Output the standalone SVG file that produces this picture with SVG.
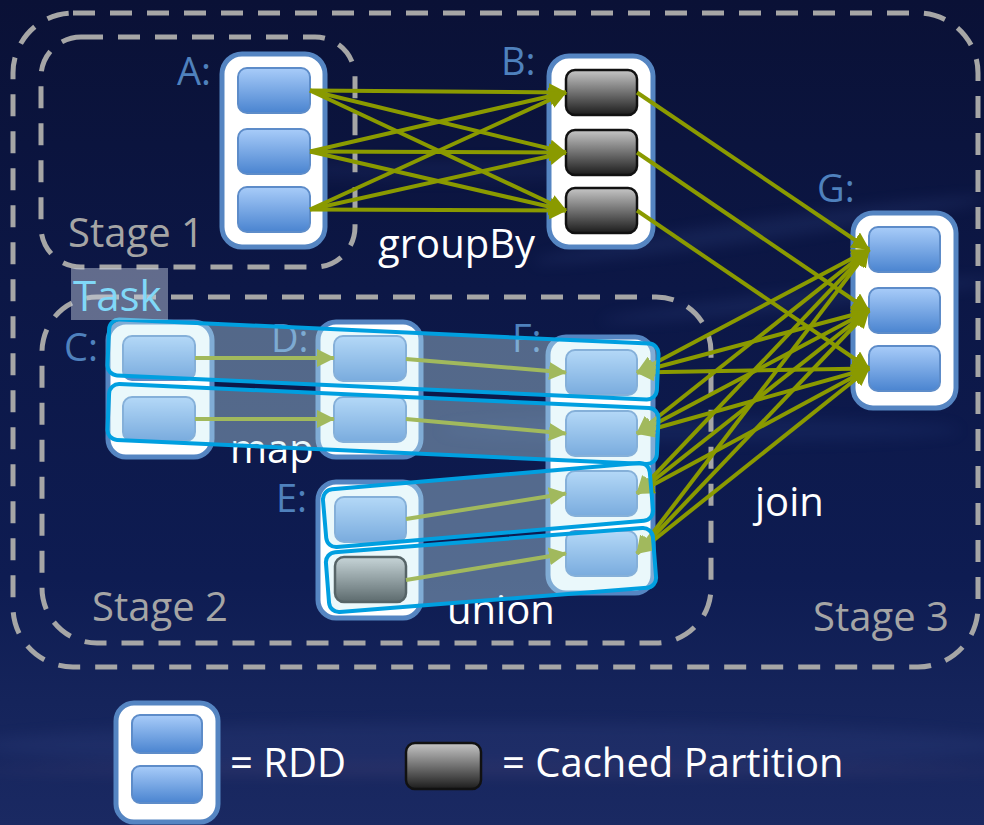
<svg xmlns="http://www.w3.org/2000/svg" width="984" height="825" viewBox="0 0 984 825">
  <defs>
    <linearGradient id="bg" x1="0" y1="0" x2="0" y2="1">
      <stop offset="0" stop-color="#0a1136"/>
      <stop offset="0.35" stop-color="#0c1746"/>
      <stop offset="0.7" stop-color="#0e1c52"/>
      <stop offset="0.85" stop-color="#15245b"/>
      <stop offset="1" stop-color="#1a2962"/>
    </linearGradient>
    <linearGradient id="part" x1="0" y1="0" x2="0" y2="1">
      <stop offset="0" stop-color="#a8ccf9"/>
      <stop offset="1" stop-color="#4a84d0"/>
    </linearGradient>
    <linearGradient id="cached" x1="0" y1="0" x2="0" y2="1">
      <stop offset="0" stop-color="#c6c6c6"/>
      <stop offset="1" stop-color="#1c1c1c"/>
    </linearGradient>
    <filter id="soft" x="-20%" y="-200%" width="140%" height="500%">
      <feGaussianBlur stdDeviation="7"/>
    </filter>
    <marker id="ah" viewBox="0 0 18 18" refX="17" refY="9" markerWidth="18" markerHeight="18" markerUnits="userSpaceOnUse" orient="auto-start-reverse">
      <path d="M0,0 L18,9 L0,18 z" fill="#8a9a00"/>
    </marker>
    <style>
      .stage { fill: none; stroke: #a6a6a6; stroke-width: 5; stroke-dasharray: 22 15; }
      .stlabel { font-family: "Open Sans", "Noto Sans", "DejaVu Sans", sans-serif; font-size: 40px; fill: #a5a5a5; }
      .name { font-family: "Open Sans", "Noto Sans", "DejaVu Sans", sans-serif; font-size: 38px; fill: #4f81bd; }
      .op { font-family: "Open Sans", "Noto Sans", "DejaVu Sans", sans-serif; font-size: 40px; fill: #ffffff; }
      .rdd { fill: #ffffff; stroke: #5585c2; stroke-width: 5; }
      .p { fill: url(#part); stroke: #5d8cc9; stroke-width: 2; }
      .c { fill: url(#cached); stroke: #111111; stroke-width: 2.5; }
      .edge { stroke: #8a9a00; stroke-width: 4; fill: none; marker-end: url(#ah); }
      .both { marker-start: url(#ah); }
      .task { fill: #c8ecf5; fill-opacity: 0.38; stroke: #009fe0; stroke-width: 4; }
    </style>
  </defs>

  <!-- backdrop -->
  <rect x="0" y="0" width="984" height="825" fill="url(#bg)"/>
  <g opacity="0.2" filter="url(#soft)">
    <ellipse cx="760" cy="230" rx="230" ry="10" fill="#3d5598" transform="rotate(-8 760 230)"/>
    <ellipse cx="800" cy="300" rx="200" ry="8" fill="#3d5598" transform="rotate(-6 800 300)"/>
    <ellipse cx="700" cy="430" rx="260" ry="12" fill="#2f4588"/>
    <ellipse cx="450" cy="170" rx="200" ry="10" fill="#2a3d80"/>
    <ellipse cx="500" cy="745" rx="520" ry="22" fill="#3a4c8c"/>
    <ellipse cx="500" cy="770" rx="520" ry="6" fill="#6a5888"/>
  </g>

  <!-- stage boundaries -->
  <rect class="stage" x="13" y="13" width="965" height="654" rx="60"/>
  <rect class="stage" x="41" y="37" width="314" height="230" rx="40"/>
  <rect class="stage" x="42" y="297" width="669" height="346" rx="55"/>
  <text class="stlabel" x="68" y="247">Stage 1</text>
  <text class="stlabel" x="92" y="621">Stage 2</text>
  <text class="stlabel" x="813" y="631">Stage 3</text>

  <!-- dataset labels -->
  <text class="name" x="177" y="85">A:</text>
  <text class="name" x="501" y="75">B:</text>
  <text class="name" x="817" y="202">G:</text>
  <text class="name" x="64" y="361">C:</text>
  <text class="name" x="271" y="352">D:</text>
  <text class="name" x="512" y="352">F:</text>
  <text class="name" x="276" y="512">E:</text>

  <!-- operation labels -->
  <text class="op" x="378" y="258">groupBy</text>
  <text class="op" x="230" y="463">map</text>
  <text class="op" x="447" y="624">union</text>
  <text class="op" x="755" y="516">join</text>

  <!-- RDDs -->
  <g id="A">
    <rect class="rdd" x="222" y="54" width="103" height="193" rx="20"/>
    <rect class="p" x="238" y="68" width="72" height="45" rx="9"/>
    <rect class="p" x="238" y="129" width="72" height="45" rx="9"/>
    <rect class="p" x="238" y="187" width="72" height="45" rx="9"/>
  </g>
  <g id="B">
    <rect class="rdd" x="549" y="56" width="104" height="191" rx="20"/>
    <rect class="c" x="566" y="70" width="71" height="45" rx="9"/>
    <rect class="c" x="566" y="130" width="71" height="45" rx="9"/>
    <rect class="c" x="566" y="188" width="71" height="45" rx="9"/>
  </g>
  <g id="G">
    <rect class="rdd" x="853" y="213" width="103" height="195" rx="20"/>
    <rect class="p" x="869" y="227" width="71" height="45" rx="9"/>
    <rect class="p" x="869" y="288" width="71" height="45" rx="9"/>
    <rect class="p" x="869" y="346" width="71" height="45" rx="9"/>
  </g>
  <g id="C">
    <rect class="rdd" x="108" y="322" width="104" height="135" rx="18"/>
    <rect class="p" x="123" y="336" width="72" height="44" rx="9"/>
    <rect class="p" x="123" y="397" width="72" height="44" rx="9"/>
  </g>
  <g id="D">
    <rect class="rdd" x="318" y="322" width="103" height="135" rx="18"/>
    <rect class="p" x="334" y="336" width="72" height="45" rx="9"/>
    <rect class="p" x="334" y="397" width="72" height="45" rx="9"/>
  </g>
  <g id="E">
    <rect class="rdd" x="318" y="482" width="103" height="136" rx="18"/>
    <rect class="p" x="335" y="497" width="71" height="45" rx="9"/>
    <rect class="c" x="335" y="557" width="71" height="45" rx="9"/>
  </g>
  <g id="F">
    <rect class="rdd" x="548" y="337" width="105" height="256" rx="18"/>
    <rect class="p" x="566" y="350" width="71" height="45" rx="9"/>
    <rect class="p" x="566" y="411" width="71" height="45" rx="9"/>
    <rect class="p" x="566" y="471" width="71" height="45" rx="9"/>
    <rect class="p" x="566" y="531" width="71" height="45" rx="9"/>
  </g>

  <!-- dependencies -->
  <g id="connectors">
    <!-- groupBy: all-to-all shuffle -->
    <line class="edge" x1="310" y1="90.5" x2="566" y2="92.5"/>
    <line class="edge" x1="310" y1="90.5" x2="566" y2="152.5"/>
    <line class="edge" x1="310" y1="90.5" x2="566" y2="210.5"/>
    <line class="edge" x1="310" y1="151.5" x2="566" y2="92.5"/>
    <line class="edge" x1="310" y1="151.5" x2="566" y2="152.5"/>
    <line class="edge" x1="310" y1="151.5" x2="566" y2="210.5"/>
    <line class="edge" x1="310" y1="209.5" x2="566" y2="92.5"/>
    <line class="edge" x1="310" y1="209.5" x2="566" y2="152.5"/>
    <line class="edge" x1="310" y1="209.5" x2="566" y2="210.5"/>
    <!-- join: B side (co-partitioned) -->
    <line class="edge" x1="637" y1="92.5" x2="869" y2="249.5"/>
    <line class="edge" x1="637" y1="152.5" x2="869" y2="310.5"/>
    <line class="edge" x1="637" y1="210.5" x2="869" y2="368.5"/>
    <!-- join: F side (shuffle) -->
    <line class="edge both" x1="637" y1="372.5" x2="869" y2="249.5"/>
    <line class="edge both" x1="637" y1="372.5" x2="869" y2="310.5"/>
    <line class="edge both" x1="637" y1="372.5" x2="869" y2="368.5"/>
    <line class="edge both" x1="637" y1="433.5" x2="869" y2="249.5"/>
    <line class="edge both" x1="637" y1="433.5" x2="869" y2="310.5"/>
    <line class="edge both" x1="637" y1="433.5" x2="869" y2="368.5"/>
    <line class="edge both" x1="637" y1="493.5" x2="869" y2="249.5"/>
    <line class="edge both" x1="637" y1="493.5" x2="869" y2="310.5"/>
    <line class="edge both" x1="637" y1="493.5" x2="869" y2="368.5"/>
    <line class="edge both" x1="637" y1="553.5" x2="869" y2="249.5"/>
    <line class="edge both" x1="637" y1="553.5" x2="869" y2="310.5"/>
    <line class="edge both" x1="637" y1="553.5" x2="869" y2="368.5"/>
    <!-- map -->
    <line class="edge" x1="195" y1="358" x2="334" y2="358"/>
    <line class="edge" x1="195" y1="419" x2="334" y2="419"/>
    <!-- union -->
    <line class="edge" x1="406" y1="359" x2="566" y2="372.5"/>
    <line class="edge" x1="406" y1="419" x2="566" y2="433.5"/>
    <line class="edge" x1="406" y1="519" x2="566" y2="493.5"/>
    <line class="edge" x1="406" y1="580" x2="566" y2="553.5"/>
  </g>

  <!-- pipelined tasks -->
  <g id="tasks">
    <rect class="task" x="108" y="331.5" width="550" height="56" rx="10" transform="rotate(2.6 383 359.5)"/>
    <rect class="task" x="108" y="396" width="550" height="56" rx="10" transform="rotate(2.6 383 424)"/>
    <rect class="task" x="324" y="476" width="328" height="58" rx="10" transform="rotate(-4.9 488 505)"/>
    <rect class="task" x="327" y="540" width="328" height="60" rx="10" transform="rotate(-4.5 491 570)"/>
  </g>
  <g id="task-label">
    <rect x="71" y="268" width="97" height="52" fill="#c8d2e1" fill-opacity="0.46"/>
    <text x="73" y="311" font-family="Open Sans, Noto Sans, DejaVu Sans, sans-serif" font-size="42" fill="#80d8f8">Task</text>
  </g>

  <!-- legend -->
  <g id="legend-rdd">
    <rect class="rdd" x="116" y="703" width="102" height="119" rx="18"/>
    <rect class="p" x="132" y="715" width="70" height="38" rx="8"/>
    <rect class="p" x="132" y="766" width="70" height="37" rx="8"/>
    <text class="op" x="230" y="777">= RDD</text>
  </g>
  <g id="legend-cached">
    <rect class="c" x="406" y="743" width="75" height="46" rx="9"/>
    <text class="op" x="502" y="777" font-size="41">= Cached Partition</text>
  </g>
</svg>
